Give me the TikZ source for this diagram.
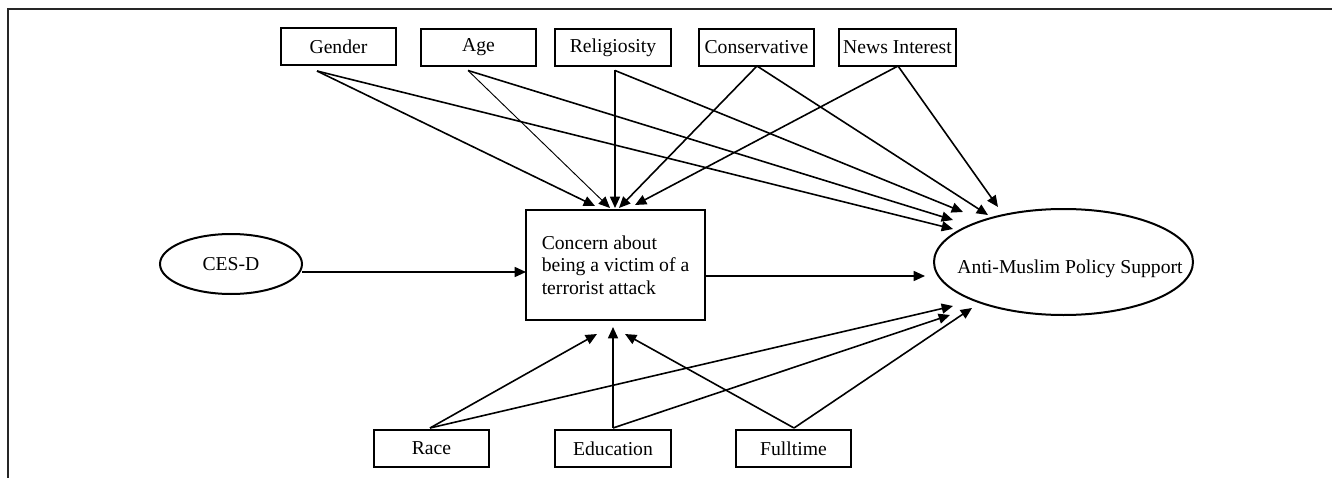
\documentclass[tikz,border=0pt]{standalone}
\usepackage{fontspec}
\setmainfont{Liberation Serif}
\usetikzlibrary{arrows.meta,shapes.geometric}
\newcommand\diagfont{\fontsize{14.75pt}{16.9pt}\selectfont}
\begin{document}
\begin{tikzpicture}[x=0.75pt,y=-0.75pt,
  every node/.style={font=\diagfont},
  box/.style={draw, rectangle, line width=1.6pt, inner sep=0pt, outer sep=0pt,
    minimum width=86.25pt, minimum height=27.75pt},
  oval/.style={draw, ellipse, line width=1.5pt, inner sep=0pt, outer sep=0pt},
  arr/.style={-{Triangle[length=8.5pt,width=7.5pt]}, line width=1.2pt},
  thinarr/.style={arr, line width=0.7pt},
  frame/.style={line width=1.3pt, black!85}]
\useasboundingbox (0,0) rectangle (1332,478);
\draw[frame] (1332,9) -- (8,9) -- (8,478);

% top covariates
\node[box] (gender) at (338.5,46.5) {Gender};
\node[box] (age) at (478.5,47.5) {Age};
\node[box, minimum width=87pt] (rel) at (613,47.5) {Religiosity};
\node[box] (cons) at (756.5,47.5) {Conservative};
\node[box, minimum width=87.75pt] (news) at (897.5,47.5) {News Interest};

% main nodes
\node[oval, minimum width=106.5pt, minimum height=45pt] (cesd) at (231,264) {CES-D};
\node[box, minimum width=134.25pt, minimum height=82.5pt, align=left] (concern) at (615.5,265)
  {Concern about\\being a victim of a\\terrorist attack};
\node[oval, minimum width=194.25pt, minimum height=79.5pt,
  label={[xshift=4.9pt,yshift=-5pt]center:Anti-Muslim Policy Support}] (am) at (1063.5,262) {};

% bottom covariates
\node[box] (race) at (431.5,448.5) {Race};
\node[box, minimum width=87pt] (edu) at (613,448.5) {Education};
\node[box] (full) at (793.5,448.5) {Fulltime};

% top connectors
\draw[arr] ([shift={(-21.5,6)}]gender.south) -- ([shift={(-20.5,-4)}]concern.north);
\draw[arr] ([shift={(-21.5,6)}]gender.south) -- ([shift={(-110.5,-33)}]am.center);
\draw[thinarr] ([shift={(-10.5,4.5)}]age.south) -- ([shift={(-5.5,-2)}]concern.north);
\draw[arr] ([shift={(-10.5,4.5)}]age.south) -- ([shift={(-110.5,-42)}]am.center);
\draw[arr] ([shift={(2,4.5)}]rel.south) -- ([shift={(-0.5,-2)}]concern.north);
\draw[arr] ([shift={(2,4.5)}]rel.south) -- ([shift={(-100.5,-50)}]am.center);
\draw[arr] ([shift={(0.5,0)}]cons.south) -- ([shift={(3.5,-2)}]concern.north);
\draw[arr] ([shift={(0.5,0)}]cons.south) -- ([shift={(-75.5,-47)}]am.center);
\draw[arr] ([shift={(0.5,0)}]news.south) -- ([shift={(19.5,-5)}]concern.north);
\draw[arr] ([shift={(0.5,0)}]news.south) -- ([shift={(-65.5,-55)}]am.center);

% horizontal connectors
\draw[arr] ([shift={(0,8)}]cesd.east) -- ([shift={(0,7)}]concern.west);
\draw[arr] ([shift={(0,11)}]concern.east) -- ([shift={(-138.5,14)}]am.center);

% bottom connectors
\draw[arr] ([shift={(-1.5,-2)}]race.north) -- ([shift={(-18.5,14)}]concern.south);
\draw[arr] ([shift={(-1.5,-2)}]race.north) -- ([shift={(-110.5,44)}]am.center);
\draw[arr] ([shift={(0,-2)}]edu.north) -- ([shift={(-2.5,7)}]concern.south);
\draw[arr] ([shift={(0,-2)}]edu.north) -- ([shift={(-113.5,53)}]am.center);
\draw[arr] ([shift={(0.5,-2)}]full.north) -- ([shift={(9.5,14)}]concern.south);
\draw[arr] ([shift={(0.5,-2)}]full.north) -- ([shift={(-91.5,46)}]am.center);
\end{tikzpicture}
\end{document}
